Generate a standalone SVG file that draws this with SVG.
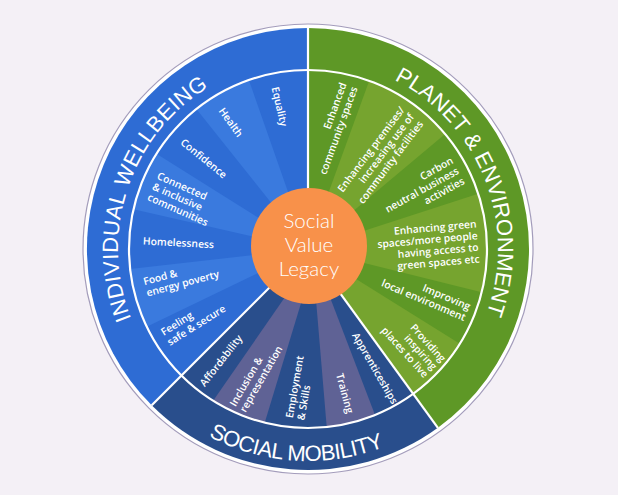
<svg xmlns="http://www.w3.org/2000/svg" width="618" height="495" viewBox="0 0 618 495">
<style>
.lbl{font-family:"Open Sans","Noto Sans",sans-serif;font-weight:600;font-size:10.3px;fill:#ffffff}
.s{text-anchor:start}
.e{text-anchor:end}
.ttl{font-family:"Liberation Sans",Arial,sans-serif;font-size:22px;fill:#ffffff}
.ctr{font-family:Lato,"Open Sans",sans-serif;font-weight:300;font-size:20.5px;fill:#ffffff;text-anchor:middle}
.div{stroke:#ffffff;stroke-width:2.2;fill:none}
</style>
<defs>
<path id="arcIW" d="M189.7,397.7 A190,190 0 0 1 303,59.1"/>
<path id="arcPE" d="M303,59.1 A190,190 0 0 1 433.9,391.3"/>
<path id="arcSM" d="M104.7,309.2 A212,212 0 0 0 502.4,333.5"/>
</defs>
<rect width="618" height="495" fill="#f4f0f6"/>
<circle cx="308" cy="249" r="225" fill="#ffffff" stroke="#a39cbb" stroke-width="1.2"/>

<g id="individual-wellbeing">
<path d="M308,249 L151.7,405.3 A221,221 0 0 1 308,28 Z" fill="#2e6cd4"/>
<path d="M308,249 L146.72,326.67 A179,179 0 0 1 130.13,269.05 Z" fill="#3a7ade"/>
<path d="M308,249 L133.49,209.17 A179,179 0 0 1 156.44,153.77 Z" fill="#3a7ade"/>
<path d="M308,249 L196.39,109.06 A179,179 0 0 1 248.88,80.04 Z" fill="#3a7ade"/>
</g>
<g id="planet-environment">
<path d="M308,249 L308,28 A221,221 0 0 1 437.9,427.8 Z" fill="#5e9826"/>
<path d="M308,249 L369.22,80.79 A179,179 0 0 1 445.12,133.94 Z" fill="#76a42f"/>
<path d="M308,249 L478.24,193.69 A179,179 0 0 1 481.68,292.30 Z" fill="#76a42f"/>
<path d="M308,249 L459.80,343.85 A179,179 0 0 1 413.21,393.81 Z" fill="#76a42f"/>
</g>
<g id="social-mobility">
<path d="M308,249 L437.9,427.8 A221,221 0 0 1 151.7,405.3 Z" fill="#294e8c"/>
<path d="M315.6,295 L329.1,295 L375.05,414.96 A179,179 0 0 1 326.71,427.02 Z" fill="#5f6295"/>
<path d="M289.9,290 L305,290 L264.70,422.68 A179,179 0 0 1 213.15,400.80 Z" fill="#5f6295"/>
</g>

<g id="dividers">
<circle cx="308" cy="249" r="179" class="div" stroke-width="1.5"/>
<line x1="308" y1="249" x2="308" y2="28" class="div"/>
<line x1="308" y1="249" x2="151.7" y2="405.3" class="div"/>
<line x1="308" y1="249" x2="437.9" y2="427.8" class="div"/>
</g>

<g id="titles">
<text class="ttl" letter-spacing="0.4"><textPath href="#arcIW" startOffset="50%" text-anchor="middle">INDIVIDUAL WELLBEING</textPath></text>
<text class="ttl"><textPath href="#arcPE" startOffset="50%" text-anchor="middle">PLANET &amp; ENVIRONMENT</textPath></text>
<text class="ttl" letter-spacing="-0.5"><textPath href="#arcSM" startOffset="50%" text-anchor="middle">SOCIAL MOBILITY</textPath></text>
</g>

<g id="wellbeing-labels">
<text class="lbl s" transform="translate(275,87) rotate(77)"><tspan x="0" y="3.5">Equality</tspan></text>
<text class="lbl s" transform="translate(221,109) rotate(54)"><tspan x="0" y="3.5">Health</tspan></text>
<text class="lbl s" transform="translate(182,141) rotate(39)"><tspan x="0" y="3.5">Confidence</tspan></text>
<text class="lbl s" transform="translate(153,186) rotate(24)"><tspan x="0" y="-8.2">Connected</tspan><tspan x="0" y="3.5">&amp; inclusive</tspan><tspan x="0" y="15.2">communities</tspan></text>
<text class="lbl s" transform="translate(143,241) rotate(3)"><tspan x="0" y="3.5">Homelessness</tspan></text>
<text class="lbl s" transform="translate(145,287.5) rotate(-15)"><tspan x="0" y="-2.35">Food &amp;</tspan><tspan x="0" y="9.35">energy poverty</tspan></text>
<text class="lbl s" transform="translate(165,338) rotate(-32)"><tspan x="0" y="-2.35">Feeling</tspan><tspan x="0" y="9.35">safe &amp; secure</tspan></text>
</g>

<g id="planet-labels">
<text class="lbl e" transform="translate(349,85) rotate(-70)"><tspan x="0" y="-2.35">Enhanced</tspan><tspan x="0" y="9.35">community spaces</tspan></text>
<text class="lbl e" transform="translate(411.7,115) rotate(-53)"><tspan x="0" y="-8.2">Enhancing premises/</tspan><tspan x="0" y="3.5">increasing use of</tspan><tspan x="0" y="15.2">community facilities</tspan></text>
<text class="lbl e" transform="translate(458,170) rotate(-29)"><tspan x="0" y="-8.2">Carbon</tspan><tspan x="0" y="3.5">neutral business</tspan><tspan x="0" y="15.2">activities</tspan></text>
<text class="lbl e" transform="translate(478,241.5) rotate(-5)"><tspan x="0" y="-14.05">Enhancing green</tspan><tspan x="0" y="-2.35">spaces/more people</tspan><tspan x="0" y="9.35">having access to</tspan><tspan x="0" y="21.05">green spaces etc</tspan></text>
<text class="lbl e" transform="translate(467.5,312.5) rotate(23)"><tspan x="0" y="-2.35">Improving</tspan><tspan x="0" y="9.35">local environment</tspan></text>
<text class="lbl e" transform="translate(435,368.3) rotate(48)"><tspan x="0" y="-8.2">Providing</tspan><tspan x="0" y="3.5">inspiring</tspan><tspan x="0" y="15.2">places to live</tspan></text>
</g>

<g id="mobility-labels">
<text class="lbl s" transform="translate(202,385) rotate(-52)"><tspan x="0" y="3.5">Affordability</tspan></text>
<text class="lbl s" transform="translate(237.5,408.3) rotate(-60)"><tspan x="0" y="-2.35">Inclusion &amp;</tspan><tspan x="0" y="9.35">representation</tspan></text>
<text class="lbl s" transform="translate(295,419) rotate(-80)"><tspan x="0" y="-2.35">Employment</tspan><tspan x="0" y="9.35">&amp; Skills</tspan></text>
<text class="lbl e" transform="translate(350,413) rotate(75)"><tspan x="0" y="3.5">Training</tspan></text>
<text class="lbl e" transform="translate(395,403) rotate(60)"><tspan x="0" y="3.5">Apprenticeships</tspan></text>
</g>

<g id="centre">
<circle cx="309" cy="246" r="58" fill="#f8914a"/>
<text class="ctr" x="309" y="228">Social</text>
<text class="ctr" x="309" y="252">Value</text>
<text class="ctr" x="309" y="276">Legacy</text>
</g>
</svg>
